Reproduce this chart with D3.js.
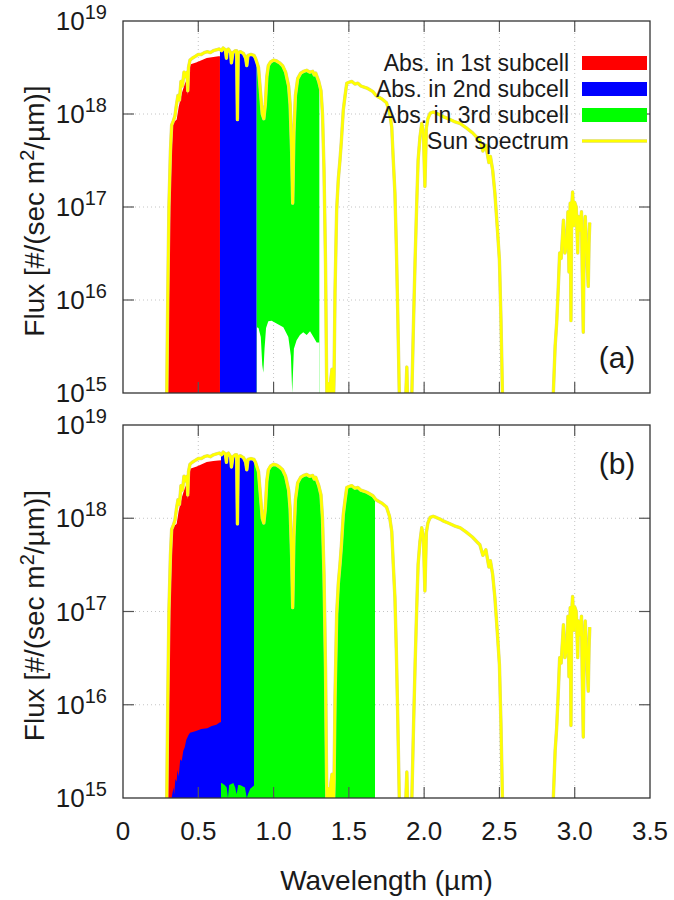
<!DOCTYPE html>
<html>
<head>
<meta charset="utf-8">
<script src="https://cdn.jsdelivr.net/npm/d3@7"></script>
<style>
  body { margin: 0; background: #fff; }
  text { font-family: "Liberation Sans", Arial, sans-serif; fill: #1a1a1a; }
</style>
</head>
<body>
<div id="chart"></div>
<script>
// ---- data ----
const xTicks = [0, 0.5, 1.0, 1.5, 2.0, 2.5, 3.0, 3.5];
const xTickLabels = ['0', '0.5', '1.0', '1.5', '2.0', '2.5', '3.0', '3.5'];
const yTicks = [1e15, 1e16, 1e17, 1e18, 1e19];
const yTickExponents = ['15', '16', '17', '18', '19'];

const legendLabels = ['Abs. in 1st subcell', 'Abs. in 2nd subcell', 'Abs. in 3rd subcell', 'Sun spectrum'];
const panelTags = ['(a)', '(b)'];

// subcell wavelength cut-offs (um): start, 1st|2nd, 2nd|3rd, end of 3rd
const cutsA = [0.29, 0.644, 0.888, 1.304];
const cutsB = [0.29, 0.651, 0.870, 1.674];

// sun spectrum [wavelength um, photon flux]
const sunSpectrum = [
  [0.280, 1e14], [0.290, 7.9e14], [0.297, 1e16], [0.305, 1e17], [0.315, 4.0e17],
  [0.323, 7.6e17], [0.335, 8.5e17], [0.345, 9.5e17], [0.355, 1.26e18], [0.365, 1.58e18],
  [0.375, 1.41e18], [0.385, 2.24e18], [0.395, 2.0e18], [0.405, 2.82e18], [0.415, 2.51e18],
  [0.425, 2.82e18], [0.430, 1.78e18], [0.435, 3.16e18], [0.445, 3.8e18], [0.460, 3.98e18],
  [0.480, 4.17e18], [0.500, 4.37e18], [0.520, 4.37e18], [0.540, 4.57e18], [0.560, 4.68e18],
  [0.580, 4.57e18], [0.600, 4.79e18], [0.620, 4.9e18], [0.640, 5.0e18], [0.655, 4.79e18],
  [0.665, 5.13e18], [0.680, 4.9e18], [0.687, 3.98e18], [0.692, 4.9e18], [0.700, 5.0e18],
  [0.715, 4.57e18], [0.720, 3.55e18], [0.730, 4.57e18], [0.745, 4.79e18], [0.755, 4.79e18],
  [0.760, 8.7e17], [0.765, 4.57e18], [0.780, 4.68e18], [0.800, 4.47e18], [0.815, 3.98e18],
  [0.822, 3.31e18], [0.830, 4.27e18], [0.850, 4.37e18], [0.870, 4.27e18], [0.880, 3.98e18],
  [0.890, 3.55e18], [0.900, 3.16e18], [0.910, 2.0e18], [0.925, 1.0e18], [0.935, 8.9e17],
  [0.945, 1.26e18], [0.955, 2.51e18], [0.965, 3.31e18], [0.980, 3.63e18], [1.000, 3.8e18],
  [1.020, 3.72e18], [1.040, 3.55e18], [1.060, 3.31e18], [1.080, 2.82e18], [1.100, 2.0e18],
  [1.110, 1.26e18], [1.120, 4.0e17], [1.127, 1.1e17], [1.135, 6.3e17], [1.145, 1.58e18],
  [1.160, 2.4e18], [1.180, 2.75e18], [1.200, 2.88e18], [1.220, 2.95e18], [1.240, 2.82e18],
  [1.260, 2.88e18], [1.270, 2.63e18], [1.280, 2.75e18], [1.300, 2.24e18], [1.315, 1.78e18],
  [1.325, 1.0e18], [1.335, 2.5e17], [1.345, 2.5e16], [1.352, 1.6e15], [1.358, 4e14],
  [1.365, 1.26e15], [1.372, 5e14], [1.380, 1.4e15], [1.388, 1.8e15], [1.395, 5e14],
  [1.402, 1.6e15], [1.408, 1.2e16], [1.419, 9.3e16], [1.430, 2.0e17], [1.441, 3.2e17],
  [1.450, 5.0e17], [1.463, 1.1e18], [1.475, 1.58e18], [1.486, 2.14e18], [1.500, 2.19e18],
  [1.519, 2.24e18], [1.540, 2.1e18], [1.560, 2.14e18], [1.580, 2.0e18], [1.600, 1.95e18],
  [1.620, 1.9e18], [1.640, 1.82e18], [1.660, 1.74e18], [1.680, 1.58e18], [1.700, 1.51e18],
  [1.720, 1.45e18], [1.750, 1.32e18], [1.770, 1.05e18], [1.785, 7.2e17], [1.795, 3.2e17],
  [1.806, 1.4e17], [1.815, 4.0e16], [1.822, 1.2e16], [1.835, 1.0e15], [1.850, 3e14],
  [1.870, 4e14], [1.885, 1.9e15], [1.895, 4e14], [1.917, 8e14], [1.930, 6.3e15],
  [1.940, 2.7e16], [1.950, 1.0e17], [1.960, 3.2e17], [1.972, 5.6e17], [1.984, 7.9e17],
  [1.995, 6.3e17], [2.005, 1.66e17], [2.015, 7.1e17], [2.025, 8.9e17], [2.040, 1.02e18],
  [2.060, 1.05e18], [2.080, 1.02e18], [2.105, 9.8e17], [2.130, 9.3e17], [2.160, 8.9e17],
  [2.200, 8.3e17], [2.240, 7.9e17], [2.280, 7.1e17], [2.320, 6.3e17], [2.350, 5.6e17],
  [2.370, 5.2e17], [2.390, 4.0e17], [2.410, 4.6e17], [2.430, 3.0e17], [2.440, 3.5e17],
  [2.455, 2.5e17], [2.470, 1.4e17], [2.485, 6.3e16], [2.500, 2.7e16], [2.510, 6.3e15],
  [2.520, 1.0e15], [2.530, 3e14], [2.840, 3e14], [2.858, 1e15], [2.870, 3.2e15],
  [2.880, 5.6e15], [2.890, 1.26e16], [2.900, 3.2e16], [2.910, 2.8e16], [2.925, 7.2e16],
  [2.935, 3.2e16], [2.947, 4e16], [2.955, 8.9e16], [2.962, 2e16], [2.970, 1.1e17],
  [2.975, 6e15], [2.980, 1e17], [2.986, 1.45e17], [2.995, 6.3e16], [3.000, 1.12e17],
  [3.010, 1e17], [3.020, 3.2e16], [3.025, 7.9e16], [3.035, 5.6e16], [3.045, 8.9e16],
  [3.050, 2e16], [3.057, 4.5e15], [3.063, 5e16], [3.070, 7.9e16], [3.080, 3.2e16],
  [3.090, 1.4e16], [3.095, 4e16], [3.100, 6.8e16]
];

// absorbed in 1st subcell (top edge of red), both panels
const sub1Abs = [
  [0.290, 1e14], [0.293, 1.0e15], [0.300, 3.0e16], [0.310, 2.5e17], [0.323, 7.2e17],
  [0.340, 8.3e17], [0.356, 8.7e17], [0.370, 1.2e18], [0.390, 1.66e18], [0.410, 2.1e18],
  [0.423, 2.34e18], [0.428, 1.6e18], [0.434, 2.6e18], [0.445, 3.4e18], [0.490, 3.6e18],
  [0.556, 4.0e18], [0.600, 4.1e18], [0.633, 4.17e18], [0.660, 4.2e18]
];

// panel (a): lower edge of the 3rd subcell band (white below)
const sub3LowA = [
  [0.888, 5.1e15], [0.900, 5.0e15], [0.915, 4.0e15], [0.925, 2.0e15], [0.932, 1.66e15],
  [0.940, 3.0e15], [0.950, 5.0e15], [0.965, 5.9e15], [0.987, 6.0e15], [1.020, 5.6e15],
  [1.065, 5.1e15], [1.098, 4.0e15], [1.115, 2.5e15], [1.124, 1.0e15], [1.135, 3.0e15],
  [1.153, 3.7e15], [1.175, 4.2e15], [1.197, 4.5e15], [1.220, 4.2e15], [1.242, 4.6e15],
  [1.265, 4.0e15], [1.286, 3.5e15], [1.304, 3.5e15]
];

// panel (b): 2nd subcell absorption below 0.65 um
const sub2LowB = [
  [0.318, 1e14], [0.323, 1.0e15], [0.335, 1.3e15], [0.340, 1.1e15], [0.348, 1.6e15],
  [0.356, 1.5e15], [0.362, 2.0e15], [0.370, 1.7e15], [0.380, 2.6e15], [0.390, 2.5e15],
  [0.400, 3.2e15], [0.410, 3.5e15], [0.420, 4.2e15], [0.434, 4.7e15], [0.445, 5.0e15],
  [0.480, 5.2e15], [0.520, 5.5e15], [0.560, 5.6e15], [0.589, 5.9e15], [0.620, 6.1e15],
  [0.644, 6.5e15], [0.660, 6.5e15]
];

// panel (b): 3rd subcell absorption between 0.65 and 0.87 um
const sub3LowB = [
  [0.645, 1.45e15], [0.655, 1.45e15], [0.675, 1.38e15], [0.689, 1.3e15], [0.697, 1.0e15],
  [0.705, 1.38e15], [0.733, 1.45e15], [0.745, 1.3e15], [0.755, 1.1e15], [0.765, 1.38e15],
  [0.777, 1.38e15], [0.810, 1.3e15], [0.822, 1.0e15], [0.832, 1.12e15], [0.845, 1.26e15],
  [0.855, 1.3e15], [0.875, 1.38e15]
];

const fillColors = ['#ff0000', '#0000ff', '#00ff00'];
const sunColor = '#ffff00';

// ---- layout ----
const W = 674, H = 900;
const svg = d3.select('#chart').append('svg').attr('width', W).attr('height', H);
const defs = svg.append('defs');

const x = d3.scaleLinear().domain([0, 3.5]).range([123, 650]);

const panels = [
  { key: 'a', top: 21, bottom: 393, cuts: cutsA, tag: panelTags[0], tagY: 368, legend: true, xLabels: false },
  { key: 'b', top: 425, bottom: 798, cuts: cutsB, tag: panelTags[1], tagY: 474, legend: false, xLabels: true }
];

const floor = 1e13;

panels.forEach(p => {
  const y = d3.scaleLog().domain([1e15, 1e19]).range([p.bottom, p.top]);
  const yv = v => y(Math.max(v, floor));
  const g = svg.append('g');

  const area = d3.area().x(d => x(d[0])).y0(p.bottom).y1(d => yv(d[1]));
  const line = d3.line().x(d => x(d[0])).y(d => yv(d[1]));

  // clip to plot area
  defs.append('clipPath').attr('id', `plot-${p.key}`)
    .append('rect').attr('x', x(0)).attr('y', p.top)
    .attr('width', x(3.5) - x(0)).attr('height', p.bottom - p.top);

  const bandClip = (id, w0, w1) => {
    defs.append('clipPath').attr('id', id)
      .append('rect').attr('x', x(w0)).attr('y', p.top)
      .attr('width', x(w1) - x(w0)).attr('height', p.bottom - p.top);
    return `url(#${id})`;
  };

  // grid
  const grid = g.append('g').attr('stroke', '#c4c4c4').attr('stroke-width', 1)
    .attr('stroke-dasharray', '1,3');
  grid.selectAll('.gx').data(xTicks.slice(1, -1)).join('line')
    .attr('x1', d => x(d)).attr('x2', d => x(d))
    .attr('y1', p.top).attr('y2', p.bottom);
  grid.selectAll('.gy').data(yTicks.slice(1, -1)).join('line')
    .attr('x1', x(0)).attr('x2', x(3.5))
    .attr('y1', d => y(d)).attr('y2', d => y(d));

  const plot = g.append('g').attr('clip-path', `url(#plot-${p.key})`);

  // 1st subcell
  plot.append('path').datum(sub1Abs)
    .attr('clip-path', bandClip(`b1-${p.key}`, p.cuts[0], p.cuts[1]))
    .attr('fill', fillColors[0]).attr('d', area);
  // 2nd subcell
  plot.append('path').datum(sunSpectrum)
    .attr('clip-path', bandClip(`b2-${p.key}`, p.cuts[1], p.cuts[2]))
    .attr('fill', fillColors[1]).attr('d', area);
  // 3rd subcell
  const g3 = plot.append('g').attr('clip-path', bandClip(`b3-${p.key}`, p.cuts[2], p.cuts[3]));
  const p3 = g3.append('path').datum(sunSpectrum)
    .attr('fill', fillColors[2]).attr('d', area);

  if (p.key === 'a') {
    const mask = defs.append('mask').attr('id', 'mask3a')
      .attr('maskUnits', 'userSpaceOnUse')
      .attr('x', 0).attr('y', 0).attr('width', W).attr('height', H);
    mask.append('rect').attr('width', W).attr('height', H).attr('fill', '#fff');
    mask.append('path').datum(sub3LowA).attr('fill', '#000').attr('d', area);
    p3.attr('mask', 'url(#mask3a)');
  } else {
    plot.append('path').datum(sub2LowB)
      .attr('clip-path', bandClip('b2low-b', p.cuts[0], p.cuts[1]))
      .attr('fill', fillColors[1]).attr('d', area);
    plot.append('path').datum(sub3LowB)
      .attr('clip-path', bandClip('b3low-b', p.cuts[1], p.cuts[2]))
      .attr('fill', fillColors[2]).attr('d', area);
  }

  // sun spectrum
  plot.append('path').datum(sunSpectrum)
    .attr('fill', 'none').attr('stroke', '#d8d48a').attr('stroke-width', 3.4)
    .attr('stroke-linejoin', 'round').attr('d', line);
  plot.append('path').datum(sunSpectrum)
    .attr('fill', 'none').attr('stroke', sunColor).attr('stroke-width', 2.6)
    .attr('stroke-linejoin', 'round').attr('d', line);

  // frame + ticks (mirrored, inward)
  const tl = 11;
  const ticks = g.append('g').attr('stroke', '#555').attr('stroke-width', 1.2);
  xTicks.slice(1, -1).forEach(t => {
    ticks.append('line').attr('x1', x(t)).attr('x2', x(t)).attr('y1', p.bottom).attr('y2', p.bottom - tl);
    ticks.append('line').attr('x1', x(t)).attr('x2', x(t)).attr('y1', p.top).attr('y2', p.top + tl);
  });
  yTicks.slice(1, -1).forEach(t => {
    ticks.append('line').attr('x1', x(0)).attr('x2', x(0) + tl).attr('y1', y(t)).attr('y2', y(t));
    ticks.append('line').attr('x1', x(3.5)).attr('x2', x(3.5) - tl).attr('y1', y(t)).attr('y2', y(t));
  });
  g.append('rect').attr('x', x(0)).attr('y', p.top)
    .attr('width', x(3.5) - x(0)).attr('height', p.bottom - p.top)
    .attr('fill', 'none').attr('stroke', '#333').attr('stroke-width', 1.3);

  // y tick labels
  yTicks.forEach((t, i) => {
    const tx = g.append('text').attr('x', 107).attr('y', y(t) + 9)
      .attr('text-anchor', 'end').style('font-size', '26px');
    tx.append('tspan').text('10');
    tx.append('tspan').attr('dy', -11).style('font-size', '20px').text(yTickExponents[i]);
  });

  // y axis title
  const yt = g.append('text')
    .attr('transform', `translate(44,${(p.top + p.bottom) / 2 + 4}) rotate(-90)`)
    .attr('text-anchor', 'middle').style('font-size', '28px');
  yt.append('tspan').text('Flux [#/(sec m');
  yt.append('tspan').attr('dy', -10).style('font-size', '20px').text('2');
  yt.append('tspan').attr('dy', 10).text('/\u00b5m)]');

  // panel tag
  g.append('text').attr('x', 617).attr('y', p.tagY).attr('text-anchor', 'middle')
    .style('font-size', '30px').text(p.tag);

  if (p.xLabels) {
    g.selectAll('.xl').data(xTicks).join('text')
      .attr('x', d => x(d)).attr('y', p.bottom + 42)
      .attr('text-anchor', 'middle').style('font-size', '26px')
      .text((d, i) => xTickLabels[i]);
    g.append('text').attr('x', (x(0) + x(3.5)) / 2).attr('y', 890)
      .attr('text-anchor', 'middle').style('font-size', '28px')
      .text('Wavelength (\u00b5m)');
  }

  if (p.legend) {
    const lg = g.append('g');
    legendLabels.forEach((lab, i) => {
      const cy = 63 + i * 26;
      lg.append('text').attr('x', 569).attr('y', cy + 8).attr('text-anchor', 'end')
        .style('font-size', '23px').text(lab);
      if (i < 3) {
        lg.append('rect').attr('x', 582).attr('y', cy - 7).attr('width', 65).attr('height', 14)
          .attr('fill', fillColors[i]);
      } else {
        lg.append('line').attr('x1', 582).attr('x2', 647).attr('y1', cy).attr('y2', cy)
          .attr('stroke', '#d8d48a').attr('stroke-width', 3.4);
        lg.append('line').attr('x1', 582).attr('x2', 647).attr('y1', cy).attr('y2', cy)
          .attr('stroke', sunColor).attr('stroke-width', 2.6);
      }
    });
  }
});
</script>
</body>
</html>
